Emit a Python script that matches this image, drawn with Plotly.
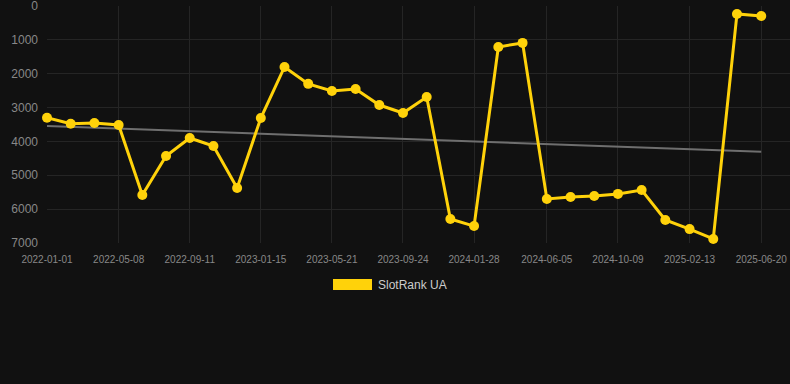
import numpy as np
import plotly.graph_objects as go

dates = ["2022-01-01", "2022-02-12", "2022-03-26", "2022-05-08", "2022-06-19", "2022-07-31",
         "2022-09-11", "2022-10-23", "2022-12-04", "2023-01-15", "2023-02-26", "2023-04-09",
         "2023-05-21", "2023-07-02", "2023-08-13", "2023-09-24", "2023-11-05", "2023-12-17",
         "2024-01-28", "2024-03-11", "2024-04-23", "2024-06-05", "2024-07-17", "2024-08-28",
         "2024-10-09", "2024-11-20", "2025-01-01", "2025-02-13", "2025-03-27", "2025-05-08",
         "2025-06-20"]
ranks = [3300, 3480, 3455, 3515, 5580, 4430, 3900, 4135, 5375, 3310, 1800, 2300,
         2510, 2450, 2925, 3160, 2690, 6290, 6500, 1210, 1090, 5700, 5640, 5610,
         5550, 5435, 6320, 6590, 6880, 235, 295]
tick_dates = ["2022-01-01", "2022-05-08", "2022-09-11", "2023-01-15", "2023-05-21", "2023-09-24",
              "2024-01-28", "2024-06-05", "2024-10-09", "2025-02-13", "2025-06-20"]
y_ticks = [0, 1000, 2000, 3000, 4000, 5000, 6000, 7000]

idx = np.arange(len(ranks))
slope, intercept = np.polyfit(idx, ranks, 1)
trend = slope * idx + intercept

fig = go.Figure()
fig.add_trace(go.Scatter(x=dates, y=trend, mode="lines",
                         line=dict(color="#6f6f6f", width=2), showlegend=False, hoverinfo="skip"))
fig.add_trace(go.Scatter(x=dates, y=ranks, mode="lines+markers", name="SlotRank UA",
                         line=dict(color="#FFD20A", width=3),
                         marker=dict(color="#FFD20A", size=10), showlegend=False, cliponaxis=False))

fig.add_shape(type="rect", xref="paper", yref="paper",
              x0=(333 - 47) / 743, x1=(372 - 47) / 743,
              y0=(243 - 290) / 237, y1=(243 - 279) / 237,
              fillcolor="#FFD20A", line=dict(width=0))
fig.add_annotation(xref="paper", yref="paper", x=(376 - 47) / 743, y=(243 - 284.5) / 237,
                   text="SlotRank UA", showarrow=False, xanchor="left", yanchor="middle",
                   font=dict(color="#cccccc", size=12, family="Liberation Sans, Arial, sans-serif"))

fig.update_layout(
    width=790, height=384,
    margin=dict(l=47, r=0, t=6, b=141, autoexpand=False),
    paper_bgcolor="#111111", plot_bgcolor="#111111",
    font=dict(family="Liberation Sans, Arial, sans-serif", color="#888888"),
    showlegend=False,
    xaxis=dict(type="date", range=["2022-01-01", "2025-08-10"], automargin=False,
               tickvals=tick_dates, ticktext=tick_dates,
               tickfont=dict(size=10, color="#888888"),
               showgrid=True, gridcolor="#252525", zeroline=False, ticks="",
               ticklabelstandoff=9, ticklabeloverflow="allow", showline=False),
    yaxis=dict(range=[7000, 0], tickvals=y_ticks, automargin=False,
               tickfont=dict(size=12, color="#888888"),
               showgrid=True, gridcolor="#252525", zeroline=False, ticks="",
               ticklabelstandoff=8, ticklabeloverflow="allow", showline=False),
)

fig.write_html("out.html", config={"displayModeBar": False},
               post_script="document.body.style.margin='0';document.body.style.background='#111111';")
